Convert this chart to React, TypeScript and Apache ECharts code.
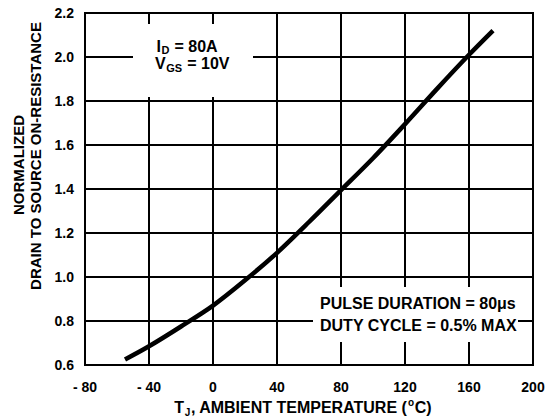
import React, { useEffect, useRef } from "react";
import * as echarts from "echarts";

const tempC = [-55, -40, -20, 0, 20, 40, 60, 80, 100, 120, 140, 160, 175];
const rdsNorm = [0.625, 0.685, 0.775, 0.87, 0.985, 1.11, 1.25, 1.395, 1.54, 1.695, 1.855, 2.01, 2.12];
const xTicks = [-80, -40, 0, 40, 80, 120, 160, 200];
const yTicks = [0.6, 0.8, 1.0, 1.2, 1.4, 1.6, 1.8, 2.0, 2.2];

const FONT = "'Liberation Sans', Arial, sans-serif";

type Piece = { t: string; size: number; dy: number };

let measureCtx: CanvasRenderingContext2D | null = null;
function textWidth(t: string, size: number): number {
  if (!measureCtx) measureCtx = document.createElement("canvas").getContext("2d");
  if (!measureCtx) return t.length * size * 0.6;
  measureCtx.font = `bold ${size}px ${FONT}`;
  return measureCtx.measureText(t).width;
}

// pieces laid out left to right on a common baseline; dy shifts sub/superscripts
function richLine(pieces: Piece[], x0: number, baseline: number, align: "left" | "center") {
  const gap = 0.6;
  const widths = pieces.map((p) => textWidth(p.t, p.size));
  const total = widths.reduce((a, b) => a + b, 0) + gap * (pieces.length - 1);
  let x = align === "center" ? x0 - total / 2 : x0;
  const els: any[] = [];
  pieces.forEach((p, i) => {
    els.push({
      type: "text",
      x,
      y: baseline + p.dy - 0.35 * p.size,
      z: 6,
      style: {
        text: p.t,
        fontFamily: FONT,
        fontWeight: "bold",
        fontSize: p.size,
        lineHeight: Math.round(p.size * 0.75),
        fill: "#000",
        align: "left",
        verticalAlign: "middle",
      },
    });
    x += widths[i] + gap;
  });
  return els;
}

export default function App() {
  const ref = useRef<HTMLDivElement>(null);
  useEffect(() => {
    if (!ref.current) return;
    const chart = echarts.init(ref.current, null, { renderer: "svg" });
    const base = { fontFamily: FONT, fontWeight: "bold" as const, color: "#000" };
    const graphics: any[] = [
      {
        type: "rect",
        shape: { x: 133, y: 24, width: 120, height: 73 },
        style: { fill: "#fff" },
        z: 5,
      },
      ...richLine(
        [
          { t: "I", size: 16, dy: 0 },
          { t: "D", size: 11, dy: 1.6 },
          { t: " = 80A", size: 16, dy: 0 },
        ],
        156.5,
        52.5,
        "left"
      ),
      ...richLine(
        [
          { t: "V", size: 16, dy: 0 },
          { t: "GS", size: 11, dy: 2.7 },
          { t: " = 10V", size: 16, dy: 0 },
        ],
        155,
        69.3,
        "left"
      ),
      {
        type: "rect",
        shape: { x: 313, y: 287, width: 205, height: 55 },
        style: { fill: "#fff" },
        z: 5,
      },
      {
        type: "text",
        x: 320,
        y: 292,
        z: 6,
        style: {
          text: "PULSE DURATION = 80\u03bcs\nDUTY CYCLE = 0.5% MAX",
          ...base,
          fontSize: 16,
          lineHeight: 22,
          fill: "#000",
        },
      },
      {
        type: "text",
        x: 18,
        y: 165,
        rotation: Math.PI / 2,
        z: 6,
        style: {
          text: "NORMALIZED",
          ...base,
          fontSize: 15,
          fill: "#000",
          align: "center",
          verticalAlign: "middle",
        },
      },
      {
        type: "text",
        x: 35.5,
        y: 156,
        rotation: Math.PI / 2,
        z: 6,
        style: {
          text: "DRAIN TO SOURCE ON-RESISTANCE",
          ...base,
          fontSize: 15,
          fill: "#000",
          align: "center",
          verticalAlign: "middle",
        },
      },
      ...richLine(
        [
          { t: "T", size: 16, dy: 0 },
          { t: "J", size: 10, dy: 3 },
          { t: ", AMBIENT TEMPERATURE (", size: 16, dy: 0 },
          { t: "o", size: 10, dy: -7 },
          { t: "C)", size: 16, dy: 0 },
        ],
        303,
        413.3,
        "center"
      ),
    ];
    chart.setOption({
      animation: false,
      backgroundColor: "#fff",
      grid: {
        left: 85,
        right: 16,
        top: 13,
        bottom: 55,
        show: true,
        borderColor: "#000",
        borderWidth: 2,
        z: 3,
      },
      xAxis: {
        type: "value",
        min: xTicks[0],
        max: xTicks[xTicks.length - 1],
        interval: 40,
        axisLine: { show: false },
        axisTick: { show: false },
        splitLine: { show: true, lineStyle: { color: "#000", width: 2 } },
        axisLabel: {
          ...base,
          fontSize: 14,
          margin: 15,
          formatter: (v: number) => (v < 0 ? "- " + Math.abs(v) : String(v)),
        },
      },
      yAxis: {
        type: "value",
        min: yTicks[0],
        max: yTicks[yTicks.length - 1],
        interval: 0.2,
        axisLine: { show: false },
        axisTick: { show: false },
        splitLine: { show: true, lineStyle: { color: "#000", width: 2 } },
        axisLabel: {
          ...base,
          fontSize: 14,
          margin: 11,
          formatter: (v: number) => v.toFixed(1),
        },
      },
      series: [
        {
          type: "line",
          data: tempC.map((t, i) => [t, rdsNorm[i]]),
          smooth: 0.3,
          showSymbol: false,
          lineStyle: { color: "#000", width: 4.5, cap: "butt" },
          z: 4,
        },
      ],
      graphic: graphics,
    });
    return () => chart.dispose();
  }, []);
  return <div ref={ref} style={{ width: 549, height: 420, position: "absolute", left: 0, top: 0 }} />;
}
